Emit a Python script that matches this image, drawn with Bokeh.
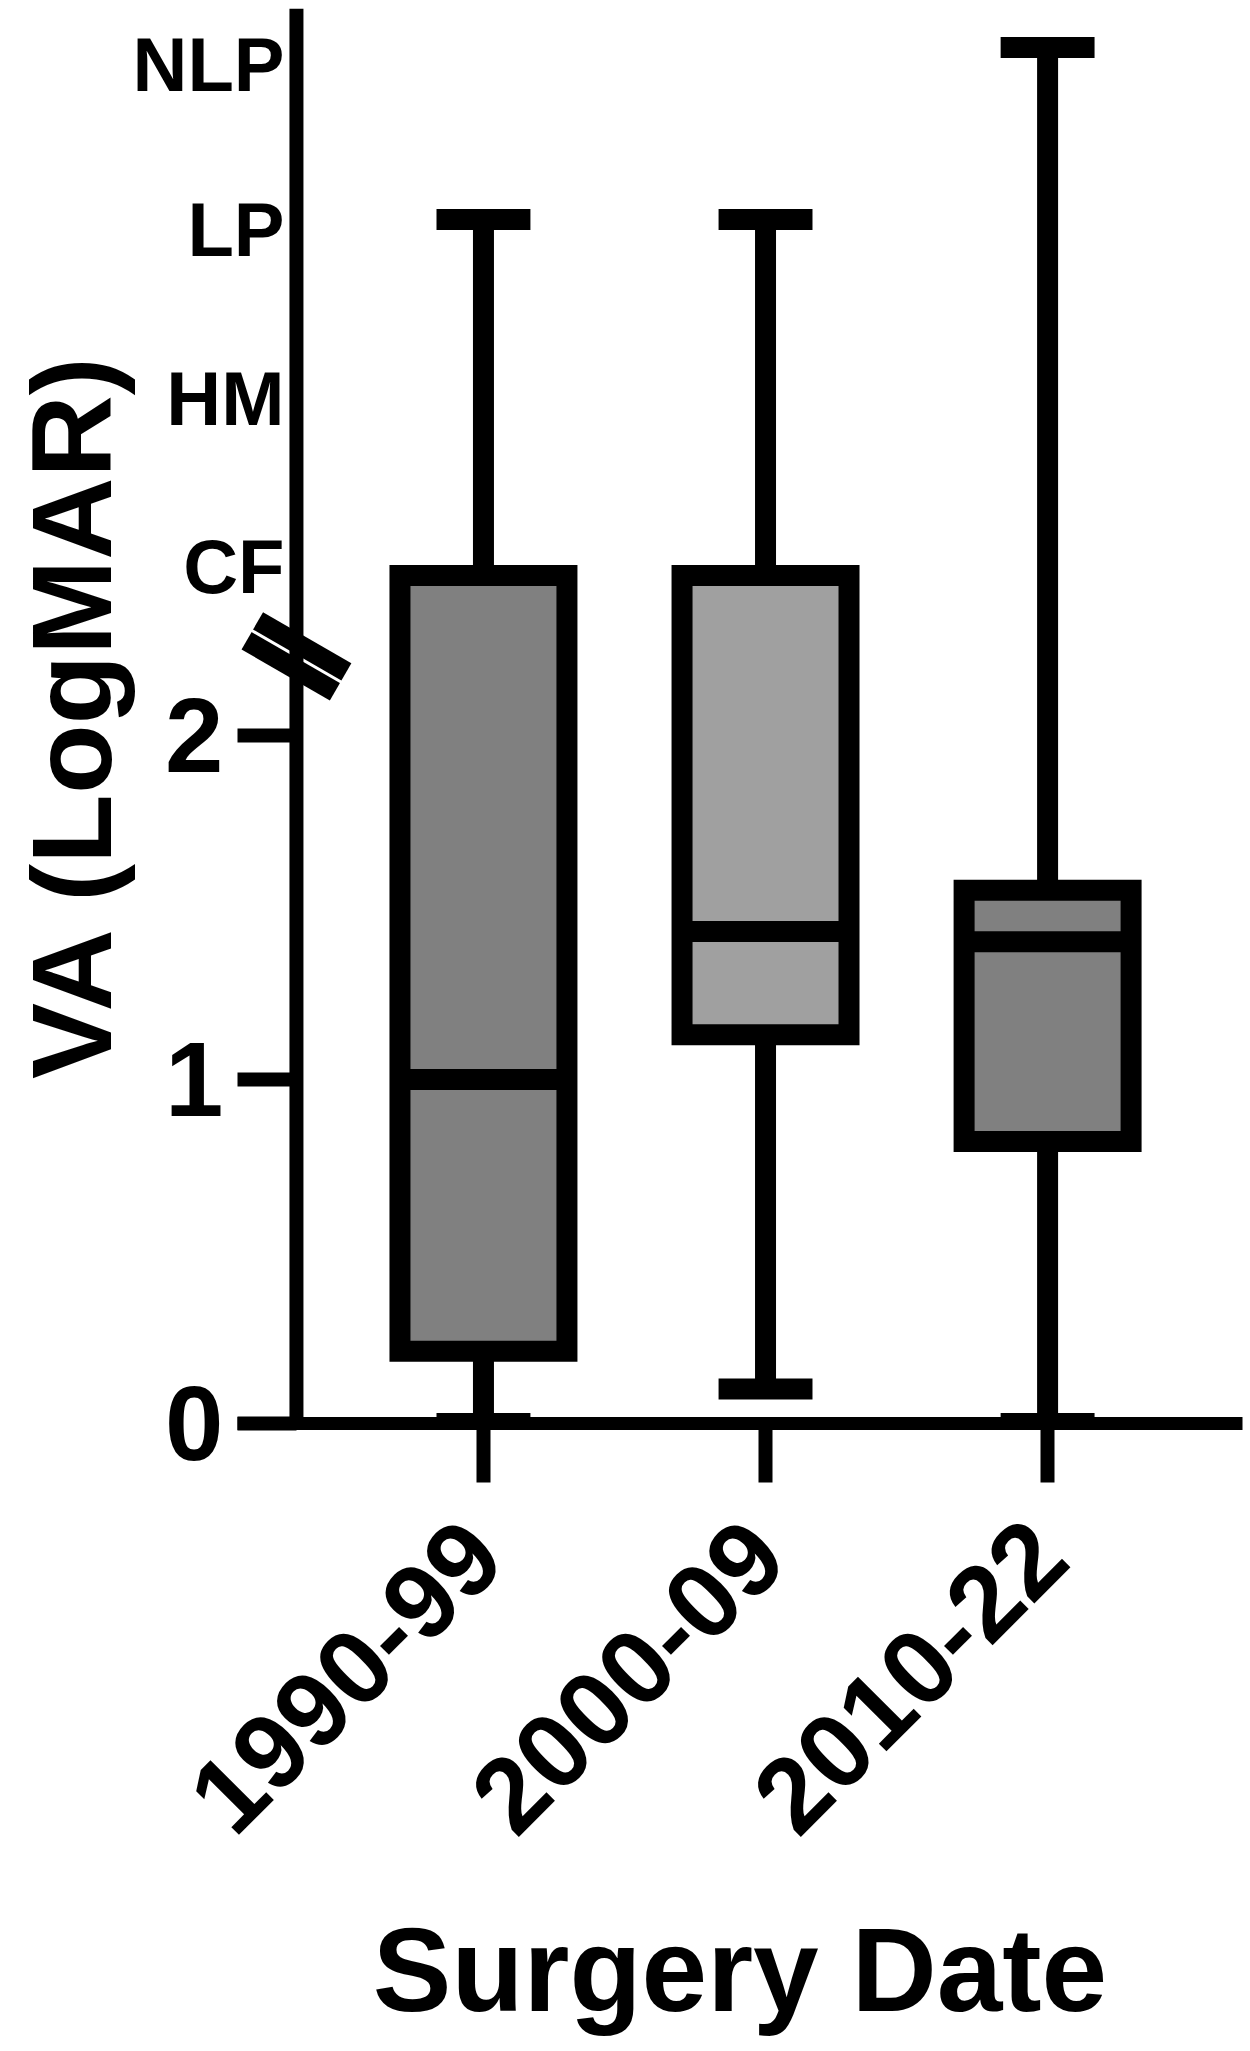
import math

from bokeh.plotting import figure
from bokeh.models import FixedTicker, LinearAxis, Range1d, Span
from bokeh.embed import file_html
from bokeh.resources import INLINE

# values (LogMAR, with CF/HM/LP/NLP above the break)
groups = ["1990-99", "2000-09", "2010-22"]
positions = [1, 2, 3]
q1 = [0.21, 1.13, 0.82]
medians = [1.00, 1.43, 1.40]
q3 = [2.465, 2.465, 1.55]
whisker_low = [0.00, 0.10, 0.00]
whisker_high = [3.50, 3.50, 4.00]
fills = ["#808080", "#a0a0a0", "#808080"]

num_ticks = [0, 1, 2]
cat_ticks = [2.49, 2.98, 3.47, 3.95]
cat_labels = ["CF", "HM", "LP", "NLP"]
break_y = 2.23

FONT = "Liberation Sans"
BOX_W = 0.592
CAP_W = 0.333
YAXIS_X = 0.337
LW = 21

p = figure(width=1250, height=2051,
           x_range=Range1d(0.128, 3.691), y_range=Range1d(0, 4.113),
           output_backend="svg", toolbar_location=None,
           min_border_left=237, min_border_right=8,
           min_border_top=8, min_border_bottom=628)
p.outline_line_color = None
p.xgrid.visible = False
p.ygrid.visible = False

# whiskers
p.segment(x0=positions, y0=q3, x1=positions, y1=whisker_high, line_width=LW, line_color="black")
p.segment(x0=positions, y0=whisker_low, x1=positions, y1=q1, line_width=LW, line_color="black")

# boxes
p.vbar(x=positions, width=BOX_W, bottom=q1, top=q3, fill_color=fills,
       line_color="black", line_width=LW, line_join="miter")

# medians
p.segment(x0=[x - BOX_W / 2 for x in positions], y0=medians,
          x1=[x + BOX_W / 2 for x in positions], y1=medians,
          line_width=LW, line_color="black")

# caps
for ends in (whisker_low, whisker_high):
    p.segment(x0=[x - CAP_W / 2 for x in positions], y0=ends,
              x1=[x + CAP_W / 2 for x in positions], y1=ends,
              line_width=LW, line_color="black")

# axis break mark
p.rect(x=[YAXIS_X], y=[break_y], width=102, height=43, width_units="screen", height_units="screen",
       angle=-math.radians(30), fill_color="black", line_color=None)
p.rect(x=[YAXIS_X], y=[break_y], width=104, height=3, width_units="screen", height_units="screen",
       angle=-math.radians(30), fill_color="white", line_color=None)

# vertical axis line
p.add_layout(Span(location=YAXIS_X, dimension="height", line_color="black", line_width=14))

# y axis: numeric part (ticks drawn inward up to the vertical axis line)
ya = p.yaxis[0]
ya.ticker = FixedTicker(ticks=num_ticks)
ya.axis_line_color = None
ya.major_tick_in = 59
ya.major_tick_out = 0
ya.major_tick_line_width = 14
ya.minor_tick_line_color = None
ya.major_label_standoff = 14
ya.major_label_text_font = FONT
ya.major_label_text_font_style = "bold"
ya.major_label_text_font_size = "105px"
ya.major_label_text_color = "black"

# outer y axis: CF / HM / LP / NLP labels above the break, plus the title
cat_axis = LinearAxis(ticker=FixedTicker(ticks=cat_ticks),
                      major_label_overrides={t: lab for t, lab in zip(cat_ticks, cat_labels)},
                      axis_line_color=None, major_tick_line_color=None, minor_tick_line_color=None,
                      major_tick_in=0, major_tick_out=0, major_label_standoff=-122,
                      major_label_text_font=FONT, major_label_text_font_style="bold",
                      major_label_text_font_size="76px", major_label_text_color="black",
                      axis_label="VA (LogMAR)", axis_label_text_font=FONT,
                      axis_label_text_font_style="bold", axis_label_text_font_size="114px",
                      axis_label_text_color="black", axis_label_standoff=-5)
p.add_layout(cat_axis, "left")

# x axis
xa = p.xaxis[0]
xa.ticker = FixedTicker(ticks=positions)
xa.major_label_overrides = {pos: g for pos, g in zip(positions, groups)}
xa.axis_line_width = 13
xa.axis_line_color = "black"
xa.major_tick_out = 59
xa.major_tick_in = 0
xa.major_tick_line_width = 14
xa.minor_tick_line_color = None
xa.major_label_orientation = math.pi / 4
xa.major_label_standoff = 56
xa.major_label_text_font = FONT
xa.major_label_text_font_style = "bold"
xa.major_label_text_font_size = "106px"
xa.major_label_text_color = "black"
xa.axis_label = "Surgery Date"
xa.axis_label_text_font = FONT
xa.axis_label_text_font_style = "bold"
xa.axis_label_text_font_size = "118px"
xa.axis_label_text_color = "black"
xa.axis_label_standoff = 36

open("out.html", "w").write(file_html(p, INLINE))
